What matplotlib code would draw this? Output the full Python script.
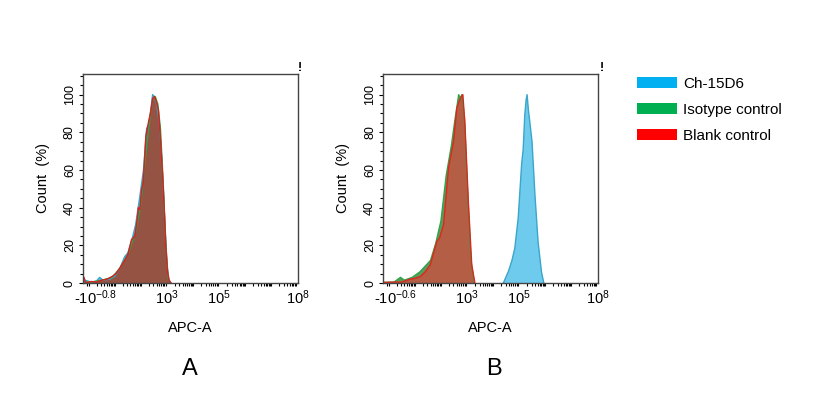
import numpy as np
import matplotlib.pyplot as plt
from matplotlib.patches import Patch

plt.rcParams['font.family'] = ['Liberation Sans', 'DejaVu Sans']
plt.rcParams['mathtext.fontset'] = 'custom'
plt.rcParams['mathtext.rm'] = 'Liberation Sans'
plt.rcParams['mathtext.it'] = 'Liberation Sans'

# x positions are in decades of APC-A (display units of the biexponential axis)
# ---- panel A ----
a_red_x = [-0.22, -0.18, -0.12, -0.05, 0.1, 0.3, 0.5, 0.7, 0.9, 1.05, 1.2, 1.38, 1.5, 1.64, 1.77,
           1.86, 1.9, 1.96, 2.03, 2.09, 2.19, 2.3, 2.38, 2.45, 2.52, 2.58, 2.67, 2.73, 2.8, 2.86,
           2.96, 3.02, 3.08, 3.15]
a_red_y = [0.5, 3, 0.5, 0.3, 0.8, 0.5, 1.5, 2, 3.5, 5, 8, 12, 15, 23, 25,
           34, 40, 39, 50, 53, 78, 86, 91, 98, 99, 97, 92, 81, 65, 50,
           18, 6, 1.5, 0]
a_blue_x = [-0.22, -0.15, 0.1, 0.3, 0.42, 0.55, 0.8, 1.0, 1.2, 1.38, 1.5, 1.64, 1.8, 1.95,
            2.1, 2.22, 2.3, 2.38, 2.45, 2.52, 2.6, 2.7, 2.8, 2.9, 3.0, 3.08, 3.15]
a_blue_y = [0.5, 1.5, 0.5, 1, 3, 1.5, 2, 3.5, 8, 14, 16, 22, 31, 45,
            60, 82, 84, 92, 100, 99, 95, 86, 66, 38, 9, 1.5, 0]
a_green_x = [-0.22, 0.1, 0.5, 0.9, 1.2, 1.5, 1.8, 2.0, 2.2, 2.35, 2.45, 2.55, 2.65, 2.75,
             2.85, 2.95, 3.05, 3.15]
a_green_y = [0.5, 0.5, 1.5, 3, 8, 15, 27, 42, 70, 88, 97, 99, 95, 82,
             55, 22, 2, 0]

# ---- panel B ----
b_red_x = [-0.22, 0.2, 0.5, 0.8, 1.0, 1.21, 1.4, 1.59, 1.84, 1.95, 2.1, 2.29, 2.48, 2.61, 2.71,
           2.78, 2.84, 2.92, 3.05, 3.18, 3.3]
b_red_y = [0.3, 0.5, 0.5, 2, 2.5, 3.4, 6, 9.6, 22, 24, 31, 61, 75, 93, 97,
           99, 100, 84, 43, 9.6, 0]
b_green_x = [-0.22, 0.2, 0.45, 0.6, 0.9, 1.2, 1.4, 1.6, 1.8, 2.0, 2.2, 2.4, 2.55, 2.68, 2.74,
             2.8, 2.9, 3.0, 3.15, 3.28]
b_green_y = [0.3, 0.5, 3, 1.5, 3, 6, 9, 12, 21, 33, 57, 73, 88, 100, 98,
             100, 88, 55, 12, 0]
b_blue_x = [4.39, 4.58, 4.72, 4.83, 4.96, 5.09, 5.15, 5.21, 5.26, 5.3, 5.35, 5.4, 5.49, 5.6,
            5.72, 5.85, 5.94]
b_blue_y = [0, 6, 12, 18.6, 34.6, 63, 71, 89, 97, 100, 92, 86, 75, 47,
            22, 6, 0]

series_labels = ['Ch-15D6', 'Isotype control', 'Blank control']
legend_colors = ['#00b0f0', '#00b050', '#ff0000']

fig = plt.figure(figsize=(8.21, 3.99), dpi=100)


def style_axes(ax, neg_label):
    ax.set_xlim(-0.22, 8.02)
    ax.set_ylim(0, 111)
    ax.set_xticks([0.27, 3, 5, 8])
    ax.set_xticklabels(['-' + r'$10^{\mathrm{%s}}$' % neg_label, r'$10^{3}$', r'$10^{5}$',
                        r'$10^{8}$'], fontsize=10.5)
    minors = [float(k) for k in range(0, 9)] + [-0.08]
    minors += [k + np.log10(m) for k in range(0, 8) for m in range(2, 10)]
    ax.set_xticks(minors, minor=True)
    ax.set_yticks([0, 20, 40, 60, 80, 100])
    ax.set_yticks(np.arange(0, 111, 5), minor=True)
    ax.tick_params(axis='y', labelsize=9, labelrotation=90, length=3, width=0.8, pad=2)
    ax.tick_params(axis='x', which='major', length=0, pad=4)
    ax.tick_params(which='minor', length=2.5, width=0.8)
    for lab in ax.get_yticklabels():
        lab.set_va('center')
    for sp in ax.spines.values():
        sp.set_color('#444444')
        sp.set_linewidth(1.0)
    ax.set_xlabel('APC-A', fontsize=10.5, labelpad=10)
    ax.set_ylabel('Count  (%)', fontsize=10.5, labelpad=10)


def draw_hist(ax, x, y, face, edge, alpha=1.0):
    ax.fill_between(x, 0, y, facecolor=face, alpha=alpha, linewidth=0)
    ax.plot(x, y, color=edge, linewidth=1.0)


axA = fig.add_axes([0.101, 0.2907, 0.262, 0.524])
draw_hist(axA, a_blue_x, a_blue_y, '#5cc4ea', '#3aa3cc')
draw_hist(axA, a_green_x, a_green_y, '#4f9a55', '#2ea44a')
draw_hist(axA, a_red_x, a_red_y, '#955443', '#d8201c')
style_axes(axA, '-0.8')

axB = fig.add_axes([0.4665, 0.2907, 0.262, 0.524])
draw_hist(axB, b_blue_x, b_blue_y, '#6ecbee', '#3aa6c8')
draw_hist(axB, b_green_x, b_green_y, '#5e9a5a', '#2ea44a')
draw_hist(axB, b_red_x, b_red_y, '#b45e45', '#e0261c')
style_axes(axB, '-0.6')

fig.text(0.2314, 0.075, 'A', fontsize=17, ha='center', va='center')
fig.text(0.6017, 0.075, 'B', fontsize=17, ha='center', va='center')
fig.text(0.3655, 0.83, '!', fontsize=9, fontweight='bold', ha='center', va='center')
fig.text(0.733, 0.83, '!', fontsize=9, fontweight='bold', ha='center', va='center')

handles = [Patch(facecolor=c, edgecolor='none') for c in legend_colors]
fig.legend(handles, series_labels, loc='upper left', bbox_to_anchor=(0.769, 0.822),
           frameon=False, fontsize=11, handlelength=2.6, handleheight=0.75,
           handletextpad=0.4, labelspacing=0.78, borderaxespad=0)

fig.savefig('out.png', dpi=100, facecolor='white')
